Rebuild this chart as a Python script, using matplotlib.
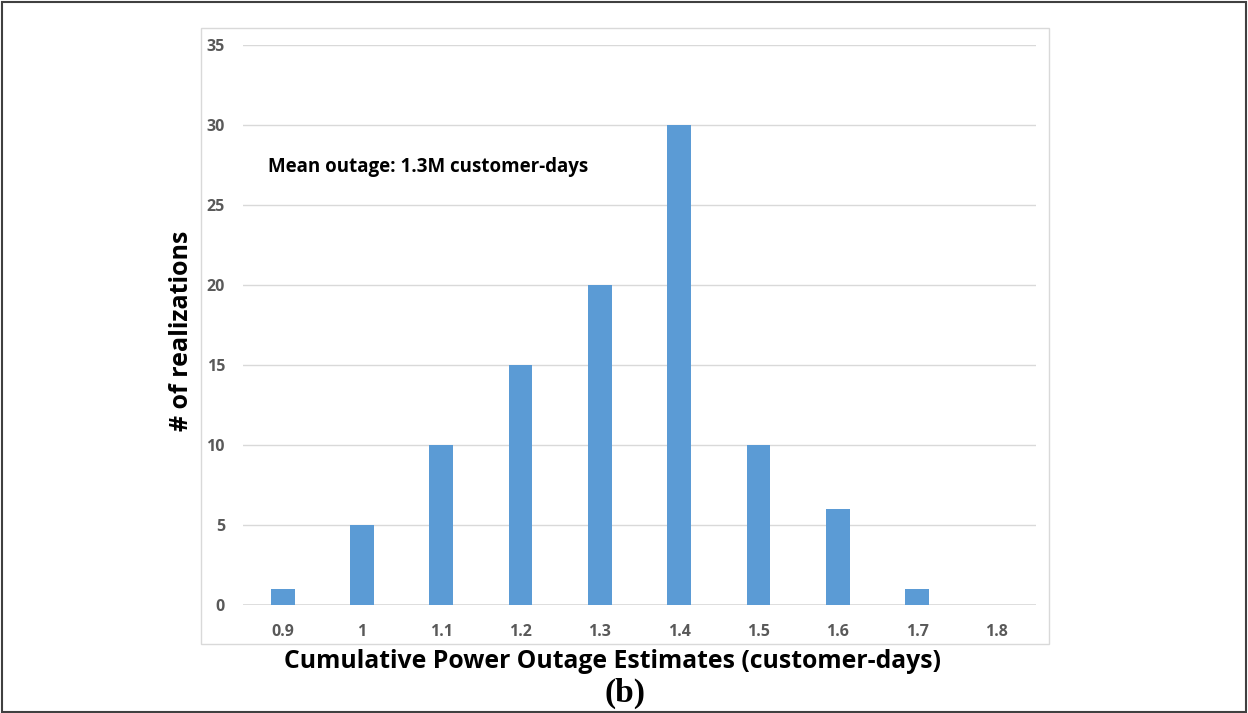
import matplotlib.pyplot as plt
import matplotlib.patches as patches

# outage bins (millions of customer-days) and counts
bins = ['0.9', '1', '1.1', '1.2', '1.3', '1.4', '1.5', '1.6', '1.7', '1.8']
counts = [1, 5, 10, 15, 20, 30, 10, 6, 1, 0]
yticks = [0, 5, 10, 15, 20, 25, 30, 35]

plt.rcParams['font.family'] = ['Open Sans', 'DejaVu Sans']

W, H = 1248, 713
fig = plt.figure(figsize=(12.48, 7.13), dpi=100)
ax = fig.add_axes([243 / W, 1 - 605 / H, 793 / W, 560 / H])

xs = range(len(bins))
ax.bar(xs, counts, width=0.3, color='#5B9BD5', zorder=3)

ax.set_xlim(-0.5, len(bins) - 0.5)
ax.set_ylim(0, 35)
ax.set_yticks(yticks)
ax.set_xticks(list(xs))
ax.set_xticklabels(bins)
ax.grid(axis='y', color='#D9D9D9', lw=1, zorder=0)
for s in ax.spines.values():
    s.set_visible(False)
ax.axhline(0, color='#D9D9D9', lw=1.2, zorder=2)
ax.tick_params(length=0, labelsize=11.5, labelcolor='#595959')
ax.tick_params(axis='x', pad=14)
ax.tick_params(axis='y', pad=13)
for lab in ax.get_xticklabels() + ax.get_yticklabels():
    lab.set_fontweight('bold')

fig.text(268 / W, 1 - 167 / H, 'Mean outage: 1.3M customer-days',
         fontsize=13.5, fontweight='bold', va='center', ha='left')

# chart area frame and outer figure border
fig.patches.append(patches.Rectangle((201 / W, 1 - 644 / H), 848 / W, 616 / H,
                                     transform=fig.transFigure, fill=False,
                                     edgecolor='#D9D9D9', lw=1))
fig.patches.append(patches.Rectangle((2 / W, 1 / H), 1244 / W, 710 / H,
                                     transform=fig.transFigure, fill=False,
                                     edgecolor='#404040', lw=1.5))

fig.text(182 / W, 1 - 331 / H, '# of realizations', rotation=90,
         fontsize=18, fontweight='bold', ha='center', va='center')
fig.text(613 / W, 1 - 661 / H, 'Cumulative Power Outage Estimates (customer-days)',
         fontsize=17.8, fontweight='bold', ha='center', va='center')
fig.text(625 / W, 1 - 693 / H, '(b)', family=['Liberation Serif', 'DejaVu Serif'],
         fontsize=24, fontweight='bold', ha='center', va='center')

fig.savefig('out.png', dpi=100)
